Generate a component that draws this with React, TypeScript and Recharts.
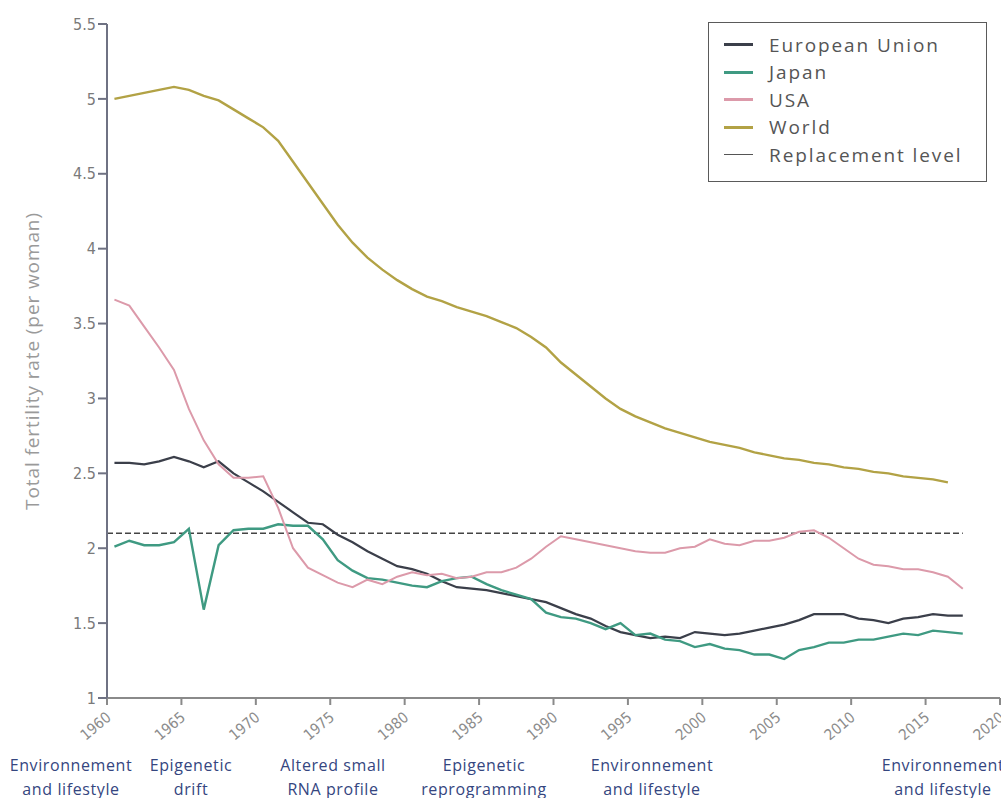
import React from 'react';
import { Label, Line, LineChart, ReferenceLine, XAxis, YAxis } from 'recharts';

// Total fertility rate (children per woman), one value per year
const YEARS = Array.from({ length: 58 }, (_, i) => 1960 + i); // 1960 … 2017

const EU = [
  2.57, 2.57, 2.56, 2.58, 2.61, 2.58, 2.54, 2.58, 2.50, 2.44,
  2.38, 2.31, 2.24, 2.17, 2.16, 2.09, 2.04, 1.98, 1.93, 1.88,
  1.86, 1.83, 1.78, 1.74, 1.73, 1.72, 1.70, 1.68, 1.66, 1.64,
  1.60, 1.56, 1.53, 1.48, 1.44, 1.42, 1.40, 1.41, 1.40, 1.44,
  1.43, 1.42, 1.43, 1.45, 1.47, 1.49, 1.52, 1.56, 1.56, 1.56,
  1.53, 1.52, 1.50, 1.53, 1.54, 1.56, 1.55, 1.55,
];

const JAPAN = [
  2.01, 2.05, 2.02, 2.02, 2.04, 2.13, 1.59, 2.02, 2.12, 2.13,
  2.13, 2.16, 2.15, 2.15, 2.06, 1.92, 1.85, 1.80, 1.79, 1.77,
  1.75, 1.74, 1.78, 1.80, 1.81, 1.76, 1.72, 1.69, 1.66, 1.57,
  1.54, 1.53, 1.50, 1.46, 1.50, 1.42, 1.43, 1.39, 1.38, 1.34,
  1.36, 1.33, 1.32, 1.29, 1.29, 1.26, 1.32, 1.34, 1.37, 1.37,
  1.39, 1.39, 1.41, 1.43, 1.42, 1.45, 1.44, 1.43,
];

const USA = [
  3.66, 3.62, 3.48, 3.34, 3.19, 2.93, 2.72, 2.56, 2.47, 2.47,
  2.48, 2.27, 2.00, 1.87, 1.82, 1.77, 1.74, 1.79, 1.76, 1.81,
  1.84, 1.82, 1.83, 1.80, 1.81, 1.84, 1.84, 1.87, 1.93, 2.01,
  2.08, 2.06, 2.04, 2.02, 2.00, 1.98, 1.97, 1.97, 2.00, 2.01,
  2.06, 2.03, 2.02, 2.05, 2.05, 2.07, 2.11, 2.12, 2.07, 2.00,
  1.93, 1.89, 1.88, 1.86, 1.86, 1.84, 1.81, 1.73,
];

// world series stops at 2016
const WORLD = [
  5.00, 5.02, 5.04, 5.06, 5.08, 5.06, 5.02, 4.99, 4.93, 4.87,
  4.81, 4.72, 4.58, 4.44, 4.30, 4.16, 4.04, 3.94, 3.86, 3.79,
  3.73, 3.68, 3.65, 3.61, 3.58, 3.55, 3.51, 3.47, 3.41, 3.34,
  3.24, 3.16, 3.08, 3.00, 2.93, 2.88, 2.84, 2.80, 2.77, 2.74,
  2.71, 2.69, 2.67, 2.64, 2.62, 2.60, 2.59, 2.57, 2.56, 2.54,
  2.53, 2.51, 2.50, 2.48, 2.47, 2.46, 2.44,
];

const REPLACEMENT_LEVEL = 2.1;

const X_TICKS = [1960, 1965, 1970, 1975, 1980, 1985, 1990, 1995, 2000, 2005, 2010, 2015, 2020];
const Y_TICKS = [1, 1.5, 2, 2.5, 3, 3.5, 4, 4.5, 5, 5.5];

const SERIES = [
  { key: 'eu', name: 'European Union', color: '#3b3f4a', width: 2.2 },
  { key: 'japan', name: 'Japan', color: '#3f9a82', width: 2.4 },
  { key: 'usa', name: 'USA', color: '#dc9aaa', width: 2 },
  { key: 'world', name: 'World', color: '#b2a245', width: 2.4 },
];

const PHASES = [
  { cx: 71, lines: ['Environnement', 'and lifestyle'] },
  { cx: 191, lines: ['Epigenetic', 'drift'] },
  { cx: 333, lines: ['Altered small', 'RNA profile'] },
  { cx: 484, lines: ['Epigenetic', 'reprogramming'] },
  { cx: 652, lines: ['Environnement', 'and lifestyle'] },
  { cx: 943, lines: ['Environnement', 'and lifestyle'] },
];

// yearly values are plotted at mid-year
const data = YEARS.map((year, i) => ({
  x: year + 0.5,
  eu: EU[i] ?? null,
  japan: JAPAN[i] ?? null,
  usa: USA[i] ?? null,
  world: WORLD[i] ?? null,
}));

const lastX = data[data.length - 1].x;

const TICK_FONT = "'DejaVu Sans Condensed', 'Liberation Sans', sans-serif";

const YearTick = ({ x, y, payload }: any) => (
  <g transform={`translate(${x + 5},${y + 12}) rotate(-40)`}>
    <text x={0} y={0} textAnchor="end" fill="#8c8c8c" fontSize={15} fontFamily={TICK_FONT}>
      {payload.value}
    </text>
  </g>
);

const LegendBox = () => (
  <div
    style={{
      position: 'absolute',
      left: 708,
      top: 22,
      width: 279,
      height: 160,
      border: '1.5px solid #5a5a5a',
      background: '#fff',
      boxSizing: 'border-box',
      padding: '8px 0 0 15px',
      fontFamily: "'Open Sans', sans-serif",
      fontSize: 19,
      letterSpacing: 1.9,
      color: '#555',
      whiteSpace: 'nowrap',
    }}
  >
    {SERIES.map((s) => (
      <div key={s.key} style={{ display: 'flex', alignItems: 'center', height: 27.5 }}>
        <span style={{ width: 29, height: 3, background: s.color, marginRight: 16 }} />
        {s.name}
      </div>
    ))}
    <div style={{ display: 'flex', alignItems: 'center', height: 27.5 }}>
      <span style={{ width: 29, height: 1, background: '#555', marginRight: 16 }} />
      Replacement level
    </div>
  </div>
);

export default function App() {
  return (
    <div style={{ position: 'absolute', left: 0, top: 0, width: 1001, height: 798, background: '#fff', overflow: 'hidden' }}>
      <LineChart width={1001} height={798} data={data} margin={{ top: 24, right: 1, bottom: 60, left: 47 }}>
        <XAxis
          dataKey="x"
          type="number"
          domain={[1960, 2020]}
          ticks={X_TICKS}
          interval={0}
          height={40}
          tick={<YearTick />}
          tickSize={7}
          stroke="#8a8a8a"
          strokeWidth={2}
        />
        <YAxis
          type="number"
          domain={[1, 5.5]}
          ticks={Y_TICKS}
          interval={0}
          width={60}
          tickSize={9}
          stroke="#6f7283"
          strokeWidth={2}
          tick={{ fill: '#7a7a7a', fontSize: 16, fontFamily: TICK_FONT }}
          tickFormatter={(v: number) => String(v)}
        >
          <Label
            value="Total fertility rate (per woman)"
            angle={-90}
            position="left"
            offset={15}
            style={{ fill: '#9a9a9a', fontSize: 19, letterSpacing: 0.9, fontFamily: "'Open Sans', sans-serif", textAnchor: 'middle' }}
          />
        </YAxis>
        <ReferenceLine
          segment={[{ x: 1960, y: REPLACEMENT_LEVEL }, { x: lastX, y: REPLACEMENT_LEVEL }]}
          stroke="#444"
          strokeWidth={1.3}
          strokeDasharray="6 3"
        />
        {SERIES.map((s) => (
          <Line
            key={s.key}
            dataKey={s.key}
            name={s.name}
            type="linear"
            stroke={s.color}
            strokeWidth={s.width}
            dot={false}
            activeDot={false}
            isAnimationActive={false}
          />
        ))}
      </LineChart>
      <LegendBox />
      {PHASES.map((p, i) => (
        <div
          key={i}
          style={{
            position: 'absolute',
            left: p.cx - 90,
            width: 180,
            top: 753,
            textAlign: 'center',
            color: '#35467f',
            fontFamily: "'Open Sans', sans-serif",
            fontSize: 16,
            letterSpacing: 0.6,
            lineHeight: '24px',
            whiteSpace: 'nowrap',
          }}
        >
          {p.lines.map((t) => (
            <div key={t}>{t}</div>
          ))}
        </div>
      ))}
    </div>
  );
}
